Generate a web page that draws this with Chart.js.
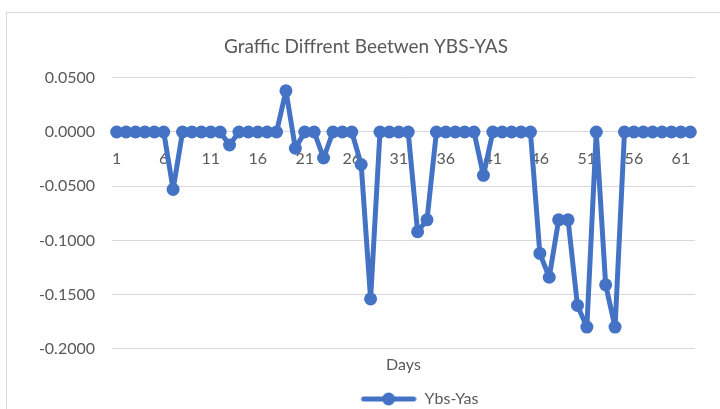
<!DOCTYPE html>
<html>
<head>
<meta charset="utf-8">
<script src="https://cdn.jsdelivr.net/npm/chart.js@4.4.1/dist/chart.umd.min.js"></script>
<style>
  html, body { margin: 0; padding: 0; background: #fff; overflow: hidden; }
  #frame {
    position: absolute; left: 6px; top: 12px;
    width: 740px; height: 420px;
    border: 1px solid #d9d9d9; box-sizing: border-box;
    overflow: hidden;
  }
  #wrap { position: absolute; left: 0; top: 0; width: 728px; height: 404px; }
</style>
</head>
<body>
<div id="frame"><div id="wrap"><canvas id="myChart"></canvas></div></div>
<script>
// Days 1..62 and the difference Ybs-Yas for each day
const days = [];
for (let d = 1; d <= 62; d++) days.push(String(d));

const ybsYas = [
    0, 0, 0, 0, 0, 0, -0.053, 0, 0, 0,
    0, 0, -0.012, 0, 0, 0, 0, 0, 0.038, -0.015,
    0, 0, -0.024, 0, 0, 0, -0.030, -0.154, 0, 0,
    0, 0, -0.092, -0.081, 0, 0, 0, 0, 0, -0.040,
    0, 0, 0, 0, 0, -0.112, -0.134, -0.081, -0.081, -0.160,
    -0.180, 0, -0.141, -0.180, 0, 0, 0, 0, 0, 0,
    0, 0
];

const yTicks = [0.05, 0, -0.05, -0.1, -0.15, -0.2];

const blue = '#4472C4';
const grey = '#595959';
const font = 'Lato';

// legend marker: a thick line with a dot in the middle (left margin nudges the legend right like Excel)
function legendMarker() {
    const c = document.createElement('canvas');
    c.width = 88; c.height = 14;
    const g = c.getContext('2d');
    g.strokeStyle = blue;
    g.lineWidth = 5;
    g.lineCap = 'round';
    g.beginPath();
    g.moveTo(35, 7); g.lineTo(85, 7);
    g.stroke();
    g.fillStyle = blue;
    g.beginPath();
    g.arc(60, 7, 6.5, 0, Math.PI * 2);
    g.fill();
    return c;
}

const ctx = document.getElementById('myChart').getContext('2d');
const myChart = new Chart(ctx, {
    type: 'line',
    data: {
        labels: days,
        datasets: [{
            label: 'Ybs-Yas',
            data: ybsYas,
            borderColor: blue,
            backgroundColor: blue,
            borderWidth: 5,
            borderJoinStyle: 'round',
            pointRadius: 6.5,
            pointBorderWidth: 0,
            pointBackgroundColor: blue,
            tension: 0
        }]
    },
    options: {
        responsive: true,
        maintainAspectRatio: false,
        animation: false,
        layout: { padding: { left: 30, right: 40, top: 0, bottom: 0 } },
        plugins: {
            title: {
                display: true,
                text: 'Graffic Diffrent Beetwen YBS-YAS',
                color: grey,
                font: { family: font, size: 19, weight: 'normal' },
                padding: { top: 22, bottom: 20 }
            },
            subtitle: {
                display: true,
                position: 'bottom',
                fullSize: false,
                weight: 500,
                text: 'Days',
                color: grey,
                font: { family: font, size: 16, weight: 'normal' },
                padding: { top: 6, bottom: 6 }
            },
            legend: {
                position: 'bottom',
                fullSize: false,
                weight: 1500,
                labels: {
                    color: grey,
                    font: { family: font, size: 16 },
                    usePointStyle: true,
                    pointStyle: legendMarker(),
                    pointStyleWidth: 88,
                    padding: 11
                }
            },
            tooltip: { enabled: false }
        },
        scales: {
            x: {
                position: { y: 0 },
                offset: true,
                grid: { display: false, drawTicks: false },
                border: { display: false },
                ticks: {
                    color: grey,
                    font: { family: font, size: 16 },
                    autoSkip: false,
                    maxRotation: 0,
                    padding: 17,
                    callback: function (v, i) { return i % 5 === 0 ? days[i] : ''; }
                }
            },
            y: {
                min: -0.2,
                max: 0.05,
                afterFit: function (s) { s.width = 75; },
                afterBuildTicks: function (s) { s.ticks = yTicks.map(v => ({ value: v })); },
                grid: { color: '#d9d9d9', lineWidth: 1, drawTicks: false },
                border: { display: false },
                ticks: {
                    color: grey,
                    font: { family: font, size: 16 },
                    padding: 17,
                    callback: v => v.toFixed(4)
                }
            }
        }
    }
});
</script>
</body>
</html>
